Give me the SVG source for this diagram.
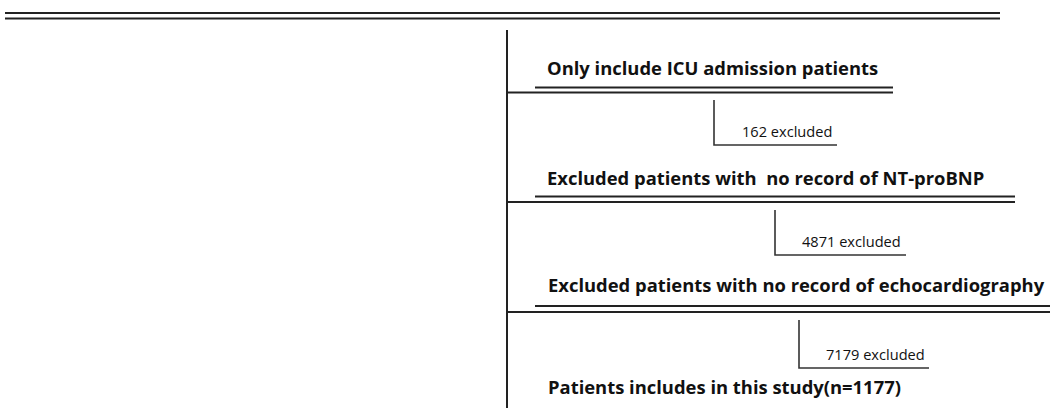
<svg xmlns="http://www.w3.org/2000/svg" width="1053" height="408" viewBox="0 0 1053 408">
<style>
.ln{stroke:#222;stroke-width:2;fill:none}
.thin{stroke:#333;stroke-width:1.6;fill:none}
.h{font-family:"Open Sans","Noto Sans","Liberation Sans",sans-serif;font-weight:bold;font-size:18.4px;fill:#111}
.s{font-family:"Open Sans","Noto Sans","Liberation Sans",sans-serif;font-size:14.6px;fill:#111}
</style>
<rect width="1053" height="408" fill="#fff"/>
<g id="connectors">
<line class="ln" x1="5" y1="13" x2="1000" y2="13"/>
<line class="ln" x1="5" y1="18.5" x2="1000" y2="18.5"/>
<line class="ln" x1="507" y1="30" x2="507" y2="408"/>
<path class="thin" d="M714 100V145H837"/>
<path class="thin" d="M775 210V255H906"/>
<path class="thin" d="M799 320V368H929"/>
</g>
<g id="step1">
<text class="h" x="547" y="75">Only include ICU admission patients</text>
<line class="ln" x1="535" y1="87.5" x2="893" y2="87.5"/>
<line class="ln" x1="507" y1="92.5" x2="893" y2="92.5"/>
</g>
<g id="excl1"><text class="s" x="742" y="137">162 excluded</text></g>
<g id="step2">
<text class="h" x="547" y="185" xml:space="preserve">Excluded patients with  no record of NT-proBNP</text>
<line class="ln" x1="535" y1="196.5" x2="1015" y2="196.5"/>
<line class="ln" x1="507" y1="202" x2="1015" y2="202"/>
</g>
<g id="excl2"><text class="s" x="802" y="247">4871 excluded</text></g>
<g id="step3">
<text class="h" x="548" y="292">Excluded patients with no record of echocardiography</text>
<line class="ln" x1="535" y1="306" x2="1050" y2="306"/>
<line class="ln" x1="507" y1="312" x2="1050" y2="312"/>
</g>
<g id="excl3"><text class="s" x="826" y="360">7179 excluded</text></g>
<g id="step4">
<text class="h" x="548" y="394">Patients includes in this study(n=1177)</text>
</g>
</svg>
